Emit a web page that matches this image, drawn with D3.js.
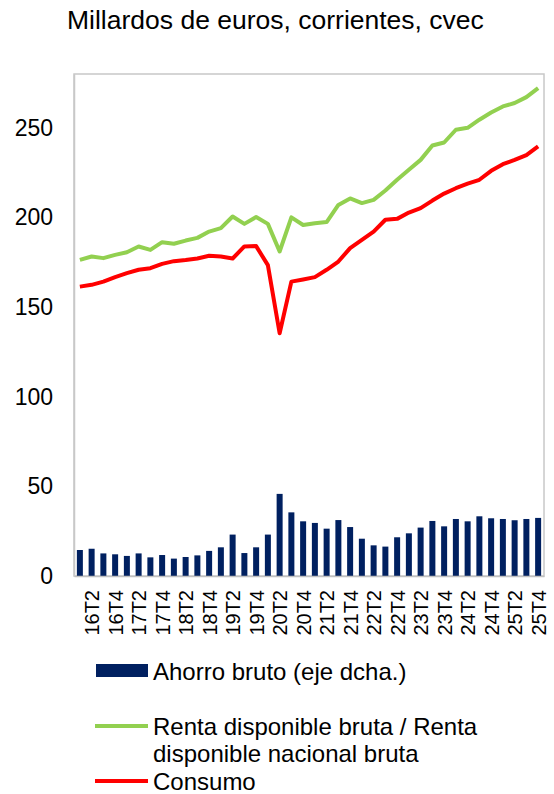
<!DOCTYPE html>
<html>
<head>
<meta charset="utf-8">
<script src="https://cdn.jsdelivr.net/npm/d3@7"></script>
<style>
  body { margin: 0; background: #fff; }
  svg { display: block; font-family: "Liberation Sans", Arial, sans-serif; }
</style>
</head>
<body>
<svg width="554" height="794"></svg>
<script>
// Data
var quarters = [];
d3.range(16, 26).forEach(function(yy) {
  [1, 2, 3, 4].forEach(function(q) { quarters.push(yy + "T" + q); });
});

var ahorro = [14.5, 15.2, 12.6, 12.1, 11.2, 12.6, 10.4, 11.7, 9.7, 10.6,
  11.5, 14.0, 16.0, 23.1, 12.8, 16.0, 23.1, 45.8, 35.5, 30.5,
  29.6, 26.4, 31.2, 27.3, 20.8, 17.1, 16.4, 21.6, 23.8, 27.0,
  30.7, 27.7, 31.8, 30.5, 33.3, 32.2, 31.8, 31.1, 31.8, 32.4];

var renta = [176.3, 178.2, 177.3, 179.1, 180.6, 183.8, 181.9, 186.2, 185.3, 187.1,
  188.6, 192.1, 194.0, 200.5, 196.4, 200.2, 196.4, 181.0, 200.0, 195.8,
  196.8, 197.4, 207.0, 210.6, 208.0, 209.8, 215.0, 221.0, 226.6, 232.1,
  240.1, 241.8, 248.9, 250.0, 254.5, 258.5, 261.9, 263.8, 267.1, 272.1];

var consumo = [161.4, 162.4, 164.2, 166.7, 168.9, 170.8, 171.7, 174.1, 175.6, 176.2,
  177.1, 178.6, 178.2, 177.1, 183.8, 184.0, 173.4, 135.4, 164.2, 165.4,
  166.7, 170.8, 175.4, 182.9, 187.5, 192.1, 198.7, 199.2, 202.7, 205.2,
  209.4, 213.3, 216.3, 218.8, 221.0, 226.0, 229.7, 232.1, 234.8, 239.6];

var yTicks = [0, 50, 100, 150, 200, 250];

var legendItems = [
  { type: "bar",  color: "#002060", lines: ["Ahorro bruto (eje dcha.)"] },
  { type: "line", color: "#92D050", lines: ["Renta disponible bruta / Renta", "disponible nacional bruta"] },
  { type: "line", color: "#FF0000", lines: ["Consumo"] }
];

var svg = d3.select("svg");
var margin = { left: 74, top: 74, plotBottom: 576 };
var plotRight = 544;

// Title
svg.append("text")
  .attr("x", 67)
  .attr("y", 29)
  .attr("font-size", 26.5)
  .attr("fill", "#000")
  .text("Millardos de euros, corrientes, cvec");

// Scales
var xc = d3.scalePoint()
  .domain(quarters)
  .range([margin.left, plotRight])
  .padding(0.5);

var y = d3.scaleLinear().domain([0, 280]).range([margin.plotBottom, margin.top]);
var yRight = y.copy(); // secondary axis, not labelled in the chart

// Plot frame
svg.append("rect")
  .attr("x", margin.left)
  .attr("y", margin.top)
  .attr("width", plotRight - margin.left)
  .attr("height", margin.plotBottom - margin.top)
  .attr("fill", "none")
  .attr("stroke", "#c8c8c8")
  .attr("stroke-width", 1.5);

// Bars
svg.append("g")
  .selectAll("rect")
  .data(ahorro)
  .enter()
  .append("rect")
    .attr("x", function(d, i) { return xc(quarters[i]) - 3; })
    .attr("width", 6)
    .attr("y", function(d) { return yRight(d); })
    .attr("height", function(d) { return yRight(0) - yRight(d); })
    .attr("fill", "#002060");

// Lines
var line = d3.line()
  .x(function(d, i) { return xc(quarters[i]); })
  .y(function(d) { return y(d); });

svg.append("path")
  .datum(renta)
  .attr("d", line)
  .attr("fill", "none")
  .attr("stroke", "#92D050")
  .attr("stroke-width", 4)
  .attr("stroke-linejoin", "round");

svg.append("path")
  .datum(consumo)
  .attr("d", line)
  .attr("fill", "none")
  .attr("stroke", "#FF0000")
  .attr("stroke-width", 4)
  .attr("stroke-linejoin", "round");

// Y axis
var yAxis = svg.append("g")
  .attr("transform", "translate(" + margin.left + ",0)")
  .call(d3.axisLeft(y).tickValues(yTicks).tickSize(0).tickPadding(21));
yAxis.select(".domain").attr("stroke", "#c8c8c8").attr("stroke-width", 1.5);
yAxis.selectAll("text")
  .attr("font-size", 23)
  .attr("font-family", "Liberation Sans, Arial, sans-serif")
  .attr("fill", "#000");

// X axis
var xAxis = svg.append("g")
  .attr("transform", "translate(0," + margin.plotBottom + ")")
  .call(d3.axisBottom(xc)
    .tickValues(quarters.filter(function(d, i) { return i % 2 === 1; }))
    .tickSize(0));
xAxis.select(".domain").attr("stroke", "#c0c0c0").attr("stroke-width", 1.5);
xAxis.selectAll("text")
  .attr("font-size", 20)
  .attr("font-family", "Liberation Sans, Arial, sans-serif")
  .attr("fill", "#000")
  .attr("text-anchor", "end")
  .attr("y", 0)
  .attr("dy", "0.35em")
  .attr("transform", "translate(0,14) rotate(-90)");

// Legend
var legendY = [671, 726, 781];
var legend = svg.append("g");
legendItems.forEach(function(item, k) {
  var cy = legendY[k];
  if (item.type === "bar") {
    legend.append("rect")
      .attr("x", 96).attr("y", cy - 7)
      .attr("width", 52).attr("height", 13)
      .attr("fill", item.color);
  } else {
    legend.append("line")
      .attr("x1", 95).attr("x2", 148)
      .attr("y1", cy).attr("y2", cy)
      .attr("stroke", item.color)
      .attr("stroke-width", 4);
  }
  item.lines.forEach(function(t, j) {
    legend.append("text")
      .attr("x", 153)
      .attr("y", cy + 8.5 + j * 27)
      .attr("font-size", 24)
      .attr("fill", "#000")
      .text(t);
  });
});
</script>
</body>
</html>
